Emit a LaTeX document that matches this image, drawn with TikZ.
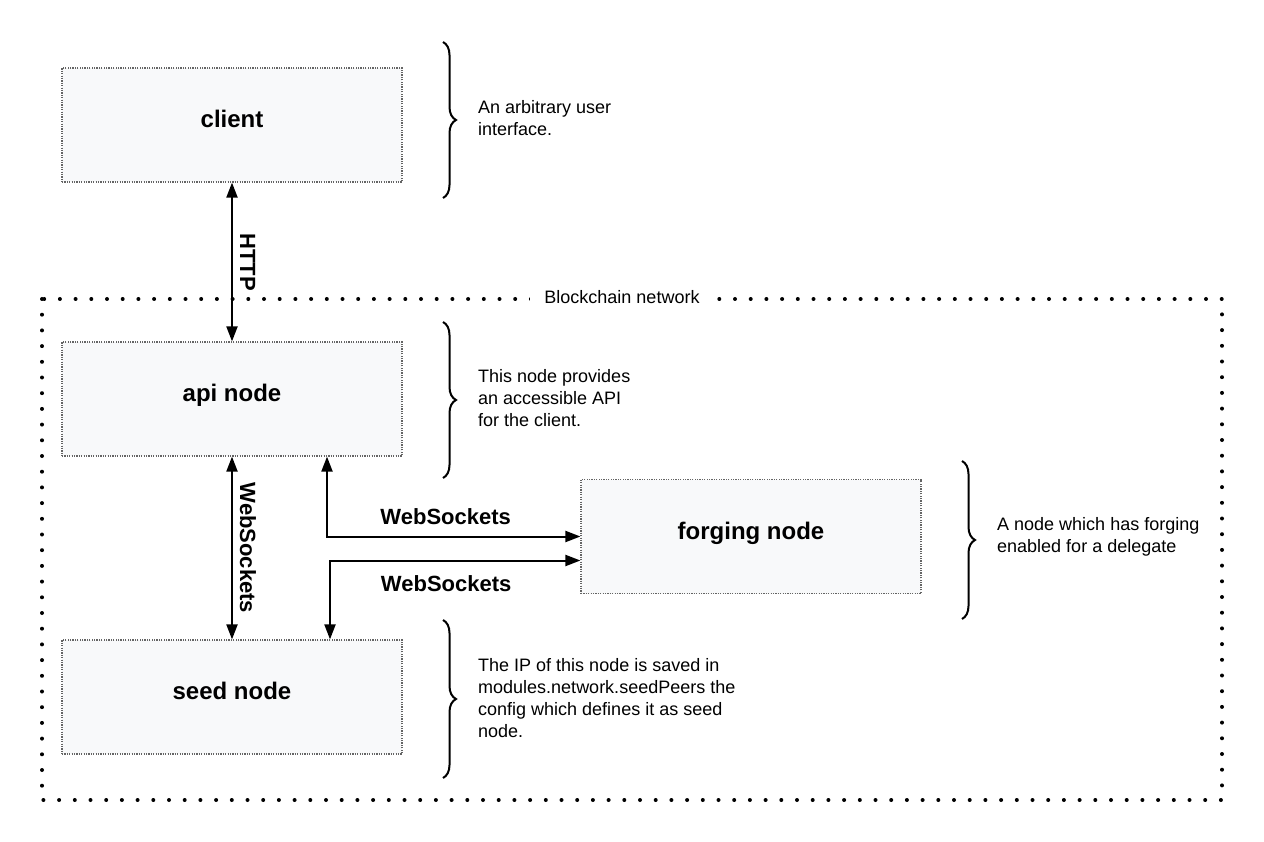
\documentclass[tikz,border=0pt]{standalone}
\usepackage{fontspec}
\setmainfont{Liberation Sans}
\usetikzlibrary{arrows.meta,decorations.pathreplacing}
\definecolor{boxfill}{RGB}{248,249,250}
\definecolor{boxline}{RGB}{100,100,100}

\begin{document}
\begin{tikzpicture}[x=1pt, y=-1pt,
    box/.style={draw=boxline, fill=boxfill, line width=1.2pt, dash pattern=on 1.2pt off 1.2pt,
        minimum width=340pt, minimum height=114pt, text depth=12pt,
        font=\fontsize{24}{28}\selectfont\bfseries},
    note/.style={anchor=west, align=left, inner sep=0pt, font=\fontsize{18}{22}\selectfont},
    lnk/.style={line width=2pt, {Triangle[length=15pt,width=11pt]}-{Triangle[length=15pt,width=11pt]}},
    lbl/.style={inner sep=0pt, font=\fontsize{22}{26}\selectfont\bfseries},
    vlbl/.style={lbl, rotate=-90, anchor=south, outer sep=8pt},
    curly/.style={line width=2pt, decorate, decoration={brace, amplitude=13pt}},
    netframe/.style={line width=4pt, line cap=round, dash pattern=on 0pt off 15.7pt}]
    \useasboundingbox (0,0) rectangle (1264,842);

    % network frame
    \draw[netframe] (42,299) rectangle (1222,800);
    \node[fill=white, inner xsep=14pt, inner ysep=2pt, font=\fontsize{18}{22}\selectfont] (netlabel) at (622,297) {Blockchain network};

    % boxes
    \node[box] (client) at (232,125) {client};
    \node[box] (api) at (232,399) {api node};
    \node[box] (forging) at (751,536.5) {forging node};
    \node[box] (seed) at (232,697) {seed node};

    % connectors
    \draw[lnk] (client.south) -- (api.north) node[vlbl, midway] {HTTP};
    \draw[lnk] (api.south) -- (seed.north) node[vlbl, midway] {WebSockets};
    \draw[lnk] ([xshift=95pt]api.south) |- (forging.west) node[lbl, pos=0.75, above=11pt, xshift=-8pt] {WebSockets};
    \draw[lnk] ([yshift=-24pt]forging.west) -| ([xshift=98pt]seed.north) node[lbl, pos=0.25, below=14pt, xshift=-9pt] {WebSockets};

    % braces and notes
    \draw[curly] (443,42) -- (443,198);
    \node[note] (clientnote) at (478,118) {An arbitrary user\\interface.};
    \draw[curly] (443,322) -- (443,478);
    \node[note] (apinote) at (478,398) {This node provides\\an accessible API\\for the client.};
    \draw[curly] (962,461) -- (962,619);
    \node[note] (forgingnote) at (997,537) {A node which has forging\\enabled for a delegate};
    \draw[curly] (443,620) -- (443,778);
    \node[note] (seednote) at (478,698) {The IP of this node is saved in\\modules.network.seedPeers the\\config which defines it as seed\\node.};
\end{tikzpicture}
\end{document}
